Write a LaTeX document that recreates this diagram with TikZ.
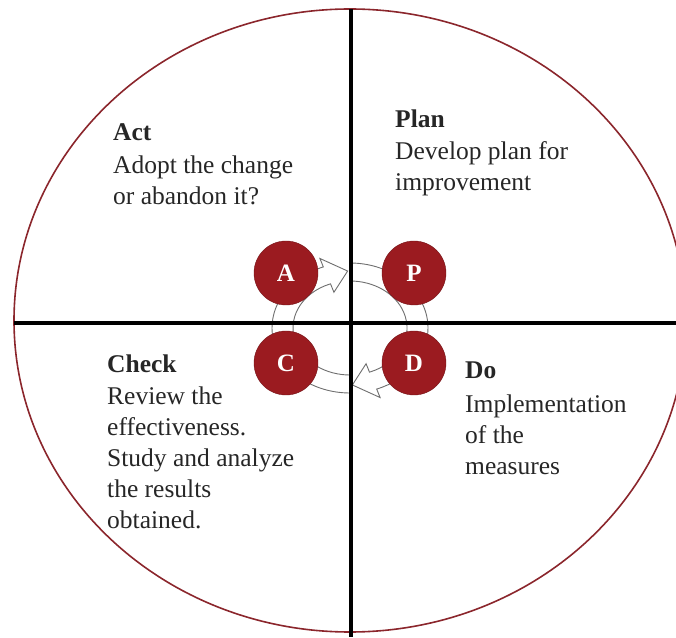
\documentclass[tikz,border=0pt]{standalone}
\usepackage{fontspec}
\setmainfont{Liberation Serif}
\definecolor{rimred}{RGB}{139,38,44}
\definecolor{discred}{RGB}{155,27,32}
\definecolor{ringgray}{RGB}{110,110,110}
\tikzset{
    letterdisc/.style={circle, fill=discred, draw=discred!75!black, minimum size=64pt,
        inner sep=0pt, text=white, font=\fontsize{25}{25}\selectfont\bfseries},
    ringarrow/.style={fill=white, draw=ringgray, line width=0.9pt},
    quadnote/.style={anchor=north west, align=left, inner sep=0pt,
        font=\fontsize{25.5}{31}\selectfont, text=black!85},
    axisline/.style={line width=4.5pt}
}
\begin{document}
\begin{tikzpicture}[x=1pt, y=1pt]
    \useasboundingbox (0, 0) rectangle (676, 637);
    \clip (0, 0) rectangle (676, 637);
    % outer rim
    \draw [rimred, line width=1.6pt] (350, 316.5) ellipse [x radius=336pt, y radius=311.5pt];
    % the two cycle arrows
    \begin{scope}[shift={(350, 309)}]
        \draw [ringarrow] (270:78pt and 65pt)
            arc [start angle=270, end angle=110, x radius=78pt, y radius=65pt]
            -- (110:88pt and 74pt) -- (92:68pt and 57pt) -- (110:47pt and 38pt)
            -- (110:57pt and 47pt)
            arc [start angle=110, end angle=270, x radius=57pt, y radius=47pt] -- cycle;
        \draw [ringarrow] (90:78pt and 65pt)
            arc [start angle=90, end angle=-70, x radius=78pt, y radius=65pt]
            -- (-70:88pt and 74pt) -- (-88:68pt and 57pt) -- (-70:47pt and 38pt)
            -- (-70:57pt and 47pt)
            arc [start angle=-70, end angle=90, x radius=57pt, y radius=47pt] -- cycle;
    \end{scope}
    \node [letterdisc] (A) at (286, 364) {A};
    \node [letterdisc] (P) at (414, 364) {P};
    \node [letterdisc] (C) at (286, 274) {C};
    \node [letterdisc] (D) at (414, 274) {D};
    % quadrant lines
    \coordinate (top) at (351, 628);
    \coordinate (bottom) at (351, 0);
    \coordinate (left) at (14, 314);
    \coordinate (right) at (676, 314);
    \draw [axisline] (top) -- (bottom);
    \draw [axisline] (left) -- (right);
    % quadrant texts
    \node [quadnote] (actnote) at (113, 514) {\textbf{Act}\\[2pt]Adopt the change\\or abandon it?};
    \node [quadnote] (plannote) at (395, 527) {\textbf{Plan}\\[1pt]Develop plan for\\improvement};
    \node [quadnote] (checknote) at (107, 282) {\textbf{Check}\\[1pt]Review the\\effectiveness.\\Study and analyze\\the results\\obtained.};
    \node [quadnote] (donote) at (465, 275) {\textbf{Do}\\[3pt]Implementation\\of the\\measures};
\end{tikzpicture}
\end{document}
